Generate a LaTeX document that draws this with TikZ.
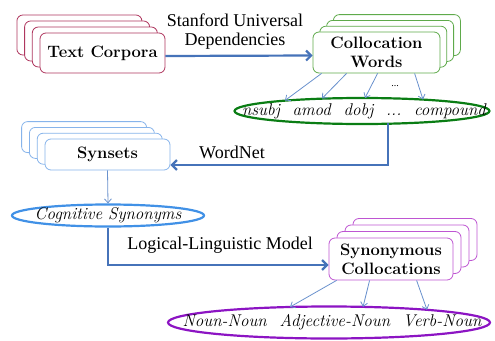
\documentclass[tikz,border=0pt]{standalone}
\usepackage{fontspec}
\setmainfont{Liberation Serif}
\newfontfamily\lmr{Latin Modern Roman}
\usetikzlibrary{shapes.geometric,arrows.meta,calc}
\definecolor{cTC}{RGB}{175,55,95}
\definecolor{cCW}{RGB}{95,170,75}
\definecolor{cSY}{RGB}{135,180,235}
\definecolor{cSC}{RGB}{190,85,210}
\definecolor{eGreen}{RGB}{10,125,20}
\definecolor{eBlue}{RGB}{65,145,230}
\definecolor{ePurple}{RGB}{140,20,195}
\definecolor{mainArr}{RGB}{70,115,185}
\definecolor{thinArr}{RGB}{105,145,205}
\begin{document}
\begin{tikzpicture}[x=1pt,y=-1pt,font=\fontsize{18}{19}\selectfont,
  box/.style={draw=#1, rounded corners=6pt, fill=white, line width=0.8pt, inner sep=0pt, align=center, font=\fontsize{16.5}{19}\lmr\bfseries},
  ell/.style={draw=#1, ellipse, line width=2.2pt, inner sep=0pt},
  elltext/.style={inner sep=0pt, font=\fontsize{17}{19}\lmr\itshape},
  mainarrow/.style={draw=mainArr, line width=2.2pt, -{Straight Barb[length=5pt,width=10pt]}},
  thinarrow/.style={draw=thinArr, line width=0.8pt, -{Straight Barb[length=4pt,width=7pt]}},
  lbl/.style={inner sep=0pt, align=center}]
\useasboundingbox (0,0) rectangle (495,340);

% Text Corpora stack
\foreach \k in {3,2,1}
  \node[box=cTC, minimum width=125pt, minimum height=40pt] (tc\k) at ({102.5-7.7*\k},{53-6*\k}) {};
\node[box=cTC, minimum width=125pt, minimum height=40pt] (tc) at (102.5,53) {Text Corpora};

% Collocation Words stack
\foreach \k in {3,2,1}
  \node[box=cCW, minimum width=127pt, minimum height=41pt] (cw\k) at ({376.5+6.8*\k},{52.5-5.8*\k}) {};
\node[box=cCW, minimum width=127pt, minimum height=41pt] (cw) at (376.5,52.5) {Collocation\\Words};

% Synsets stack
\foreach \k in {3,2,1}
  \node[box=cSY, minimum width=125pt, minimum height=31pt] (sy\k) at ({107.5-7.8*\k},{154.5-5.8*\k}) {};
\node[box=cSY, minimum width=125pt, minimum height=31pt] (sy) at (107.5,154.5) {Synsets};

% Synonymous Collocations stack
\foreach \k in {3,2,1}
  \node[box=cSC, minimum width=124pt, minimum height=42pt] (sc\k) at ({391+8*\k},{259-6.5*\k}) {};
\node[box=cSC, minimum width=124pt, minimum height=42pt] (sc) at (391,259) {Synonymous\\Collocations};

% Ellipses
\node[ell=eGreen, minimum width=255pt, minimum height=26pt] (eg) at (362,111) {};
\node[elltext] (egt) at ($(eg.center)+(2,0)$)
  {nsubj\hspace{0.75em}amod\hspace{0.75em}dobj\hspace{0.75em}...\hspace{0.75em}compound};
\node[ell=eBlue, minimum width=192pt, minimum height=22pt] (eb) at (108,215.5) {};
\node[elltext] (ebt) at (eb.center) {Cognitive Synonyms};
\node[ell=ePurple, minimum width=322pt, minimum height=32pt] (ep) at (329,322.5) {};
\node[elltext] (ept) at ($(ep.center)+(3,0)$)
  {Noun-Noun\hspace{0.75em}Adjective-Noun\hspace{0.75em}Verb-Noun};

% Labels
\node[lbl] (l1) at (235,32) {Stanford Universal\\Dependencies};
\node[lbl] (l2) at (232,152) {WordNet};
\node[lbl] (l3) at (220,245) {Logical-Linguistic Model};
\node[lbl, font=\fontsize{10}{10}\selectfont] (dots) at (395,86) {...};

% Main arrows
\draw[mainarrow] ($(tc.east)+(0,3)$) -- ($(cw.west)+(0,3)$);
\draw[mainarrow] ($(eg.center)+(26,12.4)$) |- ($(sy.east)+(0,10.5)$);
\draw[mainarrow] (eb.south) |- ($(sc.west)+(0,6)$);

% Thin arrows
\draw[thinarrow] (sy.south) -- (eb.north);
\draw[thinarrow] ($(cw.south west)+(9,0)$) -- ($(eg.center)+(-77,-10.5)$);
\draw[thinarrow] ($(cw.south west)+(34,0)$) -- ($(eg.center)+(-40,-12.5)$);
\draw[thinarrow] ($(cw.south west)+(65,0)$) -- ($(eg.center)+(3,-13)$);
\draw[thinarrow] ($(cw.south west)+(102,0)$) -- ($(eg.center)+(61,-11.5)$);
\draw[thinarrow] ($(sc.south west)+(8,0)$) -- ($(ep.center)+(-39,-15.5)$);
\draw[thinarrow] ($(sc.south west)+(41,0)$) -- ($(ep.center)+(34,-15.6)$);
\draw[thinarrow] ($(sc.south west)+(88,0)$) -- ($(ep.center)+(98,-12.7)$);
\end{tikzpicture}
\end{document}
